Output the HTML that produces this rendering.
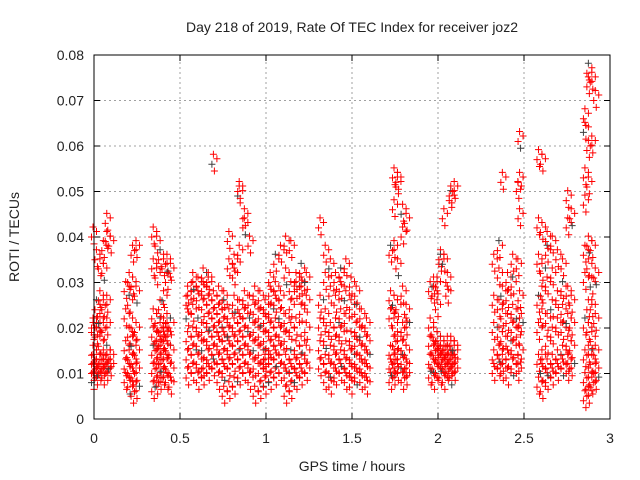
<!DOCTYPE html>
<html><head><meta charset="utf-8"><style>
body{margin:0;background:#fff;}
svg{display:block;font-family:"Liberation Sans",sans-serif;}
</style></head><body>
<svg id="chart" width="640" height="480" viewBox="0 0 640 480">
<rect width="640" height="480" fill="#fff"/>
<text x="352" y="32" font-size="14" text-anchor="middle" fill="#222">Day 218 of 2019, Rate Of TEC Index for receiver joz2</text>
<text x="352" y="471" font-size="14" text-anchor="middle" fill="#222">GPS time / hours</text>
<text transform="translate(19,237) rotate(-90)" font-size="14" text-anchor="middle" fill="#222">ROTI / TECUs</text>
<g id="grid"></g>
<g id="ticks"></g>
<g id="marks"></g>
<rect x="94" y="55" width="516" height="364" fill="none" stroke="#000" stroke-width="1"/>
</svg>
<script>
const xTicks=[0,0.5,1,1.5,2,2.5,3];
const xTickLabels=["0","0.5","1","1.5","2","2.5","3"];
const yTicks=[0,0.01,0.02,0.03,0.04,0.05,0.06,0.07,0.08];
const yTickLabels=["0","0.01","0.02","0.03","0.04","0.05","0.06","0.07","0.08"];
const times=[0.00,0.02,0.04,0.06,0.08,0.10,0.19,0.21,0.23,0.25,0.35,0.37,0.39,0.41,0.43,0.45,0.55,0.58,0.61,0.64,0.67,0.70,0.73,0.76,0.79,0.82,0.85,0.88,0.91,0.94,0.97,1.00,1.03,1.06,1.09,1.12,1.15,1.18,1.21,1.24,1.32,1.35,1.38,1.41,1.44,1.47,1.50,1.53,1.56,1.59,1.73,1.75,1.77,1.80,1.82,1.96,1.98,2.00,2.02,2.04,2.06,2.08,2.10,2.33,2.36,2.38,2.41,2.44,2.47,2.48,2.59,2.61,2.64,2.67,2.70,2.73,2.76,2.78,2.86,2.88,2.90,2.92];
const rotiValues=[
[.008,.010,.012,.014,.019,.020,.040],[.009,.011,.013,.018,.020,.024,.035],[.010,.012,.016,.021,.026,.033],[.009,.011,.013,.019,.024,.032,.037],[.010,.012,.014,.020,.025,.039,.043],[.011,.013,.038],
[.008,.011,.015,.022,.028],[.007,.010,.013,.018,.025,.030],[.005,.009,.012,.016,.020,.029,.036],[.006,.010,.014,.019,.027,.037],
[.006,.010,.014,.018,.022,.033,.040],[.007,.011,.015,.017,.021,.031,.038],[.008,.012,.016,.019,.024,.035],[.009,.013,.017,.020,.026,.033],[.008,.011,.015,.018,.021,.030,.034],[.007,.010,.014,.020,.032],
[.009,.013,.017,.022,.027,.025],[.010,.014,.018,.023,.028,.030],[.008,.012,.016,.020,.026,.029],[.009,.011,.015,.019,.024,.028,.031],[.010,.013,.017,.021,.025,.029,.030],[.011,.014,.018,.022,.026,.056],[.008,.012,.016,.019,.023,.027],[.005,.010,.013,.017,.020,.024,.026],[.006,.011,.015,.018,.022,.033,.039],[.007,.012,.016,.020,.025,.031,.034],[.009,.013,.017,.021,.024,.036,.049,.050],[.010,.014,.018,.022,.026,.044,.042],[.008,.012,.016,.020,.025,.038],[.005,.011,.015,.019,.023,.027],[.006,.010,.014,.018,.022,.026],[.007,.011,.013,.017,.021,.024,.012],[.008,.012,.015,.019,.023,.027,.030],[.009,.013,.016,.020,.025,.034,.028],[.010,.014,.018,.022,.026,.036],[.005,.009,.012,.017,.021,.031,.038],[.006,.010,.013,.019,.024,.028,.037],[.008,.011,.015,.020,.028,.030],[.009,.012,.016,.023,.027,.029,.032],[.010,.014,.019,.025,.030],
[.011,.015,.020,.025,.042],[.008,.012,.017,.022,.030,.036],[.007,.010,.014,.019,.027,.033],[.009,.012,.016,.020,.025,.030],[.010,.013,.018,.022,.028,.031],[.008,.011,.015,.021,.026,.033],[.007,.010,.013,.017,.024,.029],[.009,.012,.016,.019,.023,.027],[.008,.011,.014,.018,.022],[.007,.010,.013,.016,.020],
[.008,.011,.014,.022,.026,.036],[.009,.012,.016,.020,.025,.037,.046,.053],[.010,.013,.017,.024,.033,.051,.052],[.008,.012,.015,.019,.027,.040,.045],[.009,.011,.014,.020,.023,.043],
[.009,.012,.016,.020,.028],[.008,.011,.014,.018,.027,.029],[.010,.013,.015,.017,.024,.029],[.009,.012,.014,.016,.035,.034],[.008,.011,.013,.015,.034,.044],[.010,.012,.014,.016,.027,.030],[.009,.011,.013,.016,.048,.049],[.010,.012,.014,.015,.050],
[.010,.013,.019,.025,.034],[.011,.014,.018,.024,.031,.037],[.010,.012,.017,.022,.027,.052],[.009,.013,.016,.021,.026,.030],[.011,.015,.019,.023,.029,.034],[.010,.012,.018,.022,.033,.050],[.014,.020,.026,.044,.052,.061],
[.007,.012,.019,.025,.034,.042,.057],[.006,.010,.013,.022,.027,.032,.041,.056],[.008,.011,.016,.021,.029,.036,.039],[.009,.012,.018,.024,.031,.038],[.010,.013,.020,.026,.035],[.011,.014,.019,.023,.028,.033],[.010,.012,.016,.021,.027,.042,.048],[.011,.015,.020,.025,.044],
[.004,.008,.013,.020,.030,.036,.047,.053,.063,.066],[.005,.009,.014,.019,.024,.033,.038,.051,.059,.073,.076],[.007,.012,.017,.024,.029,.037,.060,.074],[.008,.010,.014,.021,.031,.070]
];
const X0=94,X1=610,Y0=419,Y1=55;
const xs=t=>X0+(t-0)/(3-0)*(X1-X0);
const ys=v=>Y0-(v-0)/(0.08-0)*(Y0-Y1);
const NS="http://www.w3.org/2000/svg";
const grid=document.getElementById('grid'),ticks=document.getElementById('ticks'),marks=document.getElementById('marks');
function mk(tag,attrs,parent){const e=document.createElementNS(NS,tag);for(const k in attrs)e.setAttribute(k,attrs[k]);parent.appendChild(e);return e;}
xTicks.forEach((t,i)=>{
  const x=xs(t);
  if(i>0&&i<xTicks.length-1){const g=mk('line',{x1:x,x2:x,y1:Y0,y2:Y1,stroke:'#a0a0a0','stroke-dasharray':'2,3'},grid);
  
  }
  mk('line',{x1:x,x2:x,y1:Y0,y2:Y0-6,stroke:'#000'},ticks);
  mk('line',{x1:x,x2:x,y1:Y1,y2:Y1+6,stroke:'#000'},ticks);
  const l=mk('text',{x:x,y:Y0+24,'font-size':14,'text-anchor':'middle',fill:'#222'},ticks);
  l.textContent=xTickLabels[i];
  
  
});
yTicks.forEach((v,i)=>{
  const y=ys(v);
  if(i>0&&i<yTicks.length-1){const g=mk('line',{x1:X0,x2:X1,y1:y,y2:y,stroke:'#a0a0a0','stroke-dasharray':'2,3'},grid);
  
  }
  mk('line',{x1:X0,x2:X0+6,y1:y,y2:y,stroke:'#000'},ticks);
  mk('line',{x1:X1,x2:X1-6,y1:y,y2:y,stroke:'#000'},ticks);
  const l=mk('text',{x:X0-10,y:y+5,'font-size':14,'text-anchor':'end',fill:'#222'},ticks);
  l.textContent=yTickLabels[i];
  
  
});
let n=0;
times.forEach((t,i)=>{
  rotiValues[i].forEach(v=>{
    [[-2.5,0],[2.5,0.0012],[0,-0.0015],[-1,0.0022]].forEach(([dx,dv])=>{
      const x=xs(t)+dx,y=ys(v+dv);
      const p=mk('path',{d:`M${x-3.5},${y}h7M${x},${y-3.5}v7`,stroke:(n%17===0)?'#404040':'#ff0000','stroke-width':1,fill:'none'},marks);
      
      
      n++;
    });
  });
});
</script>
</body></html>
